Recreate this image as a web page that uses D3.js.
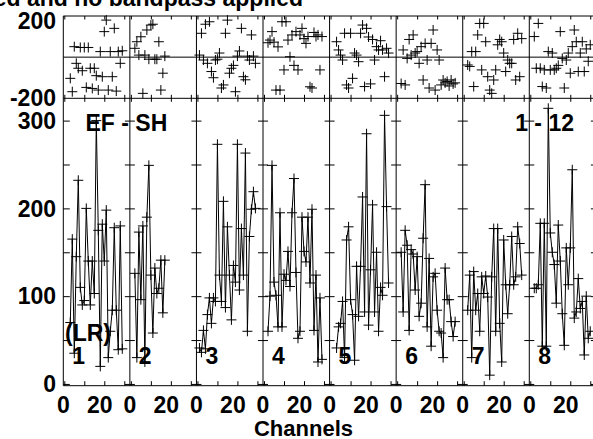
<!DOCTYPE html>
<html>
<head>
<meta charset="utf-8">
<script src="https://cdn.jsdelivr.net/npm/d3@7"></script>
<style>
  body { margin: 0; background: #fff; }
  svg { display: block; }
</style>
</head>
<body>
<script>
// panel names and first channel shown in each panel
const panelNames = ["1", "2", "3", "4", "5", "6", "7", "8"];
const firstChannel = [3, 2, 1, 2, 3, 2, 2, 2];

// amplitude per channel, one array per panel
const amp1 = [70, 165, 35, 145, 232, 110, 90, 95, 200, 140, 90, 140, 103, 300, 175, 20, 182, 140, 198, 30, 60, 84, 178, 84, 39, 180, 40];
const amp2 = [126, 30, 173, 96, 180, 25, 190, 249, 124, 58, 132, 103, 109, 141, 81, 141];
const amp3 = [41, 36, 61, 40, 79, 98, 69, 98, 94, 273, 124, 94, 208, 87, 179, 124, 73, 135, 116, 273, 107, 177, 124, 263, 60, 168, 199, 219, 200];
const amp4 = [60, 100, 249, 116, 101, 65, 195, 65, 125, 118, 151, 111, 195, 234, 127, 52, 60, 190, 151, 139, 190, 115, 199, 61, 124, 25, 98, 28];
const amp5 = [41, 65, 69, 94, 30, 164, 179, 96, 79, 27, 134, 77, 134, 213, 82, 285, 67, 130, 204, 82, 150, 60, 110, 101, 306, 202, 115];
const amp6 = [150, 82, 175, 158, 61, 153, 148, 107, 145, 77, 92, 166, 227, 65, 143, 43, 122, 126, 84, 60, 58, 30, 132, 96, 96, 71, 54, 71];
const amp7 = [84, 124, 30, 128, 84, 103, 60, 122, 103, 123, 99, 10, 122, 177, 60, 177, 69, 25, 164, 113, 80, 113, 168, 113, 122, 179, 160, 124];
const amp8 = [109, 109, 113, 183, 43, 183, 43, 314, 172, 150, 136, 92, 181, 140, 80, 44, 155, 113, 155, 244, 75, 82, 120, 86, 94, 33, 100, 52, 60];

// phase (degrees) per channel
const phase1 = [-103, -168, 51, -30, -54, 47, -66, 47, -147, 47, -54, -152, -54, -90, -160, 27, -95, 124, 180, -160, 27, -95, 140, -165, 27, -30, 31];
const phase2 = [43, 75, 10, 99, -176, 10, 132, -10, 156, 160, -10, -10, 75, -160, -78, 5];
const phase3 = [10, 116, -14, 160, -30, 172, -70, -100, -14, -10, 20, -150, -135, 116, 180, -78, -54, -40, -168, 5, 30, 140, -95, -110, 5, -14, 108, 5, -30];
const phase4 = [70, 83, 124, 73, -160, 50, -160, 172, -62, 172, 83, 2, 108, -40, 124, -62, 108, 140, 90, 67, 100, -144, -150, 120, 100, 108, -62, 100];
const phase5 = [75, 35, 10, -14, 116, -135, -150, 116, -103, 20, 10, -22, 116, 156, -143, 140, 98, -130, 86, -14, 51, 35, 80, 35, -95, 43, 20];
const phase6 = [-128, 35, -135, -6, 86, 10, 108, 20, 27, -30, 51, -111, 67, -14, -150, 67, 132, -160, 35, -14, -135, -111, -125, -118, -140, -111, -130, -125];
const phase7 = [-38, -45, 27, -143, 27, 108, 164, -62, 164, 75, -95, -160, -176, -111, -62, 60, 86, 75, 20, -70, -14, -30, -30, 86, -111, 116, -95, 90];
const phase8 = [100, -54, 164, -54, -143, -62, -150, 27, -62, 20, -62, -54, -40, 124, -6, -150, -14, 20, -78, 51, 132, 75, -70, 20, 75, -70, 40, -20, 60];

const ampSeries = [amp1, amp2, amp3, amp4, amp5, amp6, amp7, amp8];
const phaseSeries = [phase1, phase2, phase3, phase4, phase5, phase6, phase7, phase8];

// tick values and labels
const ampTicks = [0, 50, 100, 150, 200, 250, 300];
const ampLabels = [0, 100, 200, 300];
const phaseLabels = [200, -200];
const chanTicks = [0, 10, 20, 30];
const chanLabels = [0, 20];

const titleText = "Data uncalibrated and no bandpass applied";
const baselineText = "EF - SH";
const timeText = "1 - 12";
const polText = "(LR)";
const xTitle = "Channels";

// layout
const width = 593, height = 439;
const plotLeft = 63.3, panelW = 66.57;
const phaseTop = 16, phaseBottom = 98.3, ampBottom = 385.7;
const fontSize = 23;
const cross = 5;
const font = "'Liberation Sans', Arial, Helvetica, sans-serif";

const svg = d3.select("body").append("svg")
  .attr("width", width)
  .attr("height", height)
  .attr("viewBox", [0, 0, width, height])
  .attr("font-family", font)
  .attr("font-weight", "bold")
  .attr("font-size", fontSize);

// scales
const panelScale = d3.scaleBand()
  .domain(d3.range(panelNames.length))
  .range([plotLeft, plotLeft + panelW * panelNames.length]);
const yAmp = d3.scaleLinear().domain([-2, 325.4]).range([ampBottom, phaseBottom]);
const yPhase = d3.scaleLinear().domain([-200, 200]).range([phaseBottom, phaseTop]);
const xFor = (i) => d3.scaleLinear()
  .domain([-0.5, 32.8])
  .range([panelScale(i), panelScale(i) + panelScale.bandwidth()]);

const plotRight = panelScale(panelNames.length - 1) + panelScale.bandwidth();

// frame
const frame = svg.append("g").attr("stroke", "#000").attr("stroke-width", 1);
[phaseTop, yPhase(0), phaseBottom, ampBottom].forEach((yy) => {
  frame.append("line").attr("x1", plotLeft).attr("x2", plotRight).attr("y1", yy).attr("y2", yy);
});
d3.range(panelNames.length + 1).forEach((i) => {
  const xx = plotLeft + i * panelScale.bandwidth();
  frame.append("line").attr("x1", xx).attr("x2", xx).attr("y1", phaseTop).attr("y2", ampBottom);
});

function cleanAxis(g) {
  g.select(".domain").remove();
  g.selectAll(".tick text").remove();
  g.selectAll(".tick line").attr("stroke", "#000");
}

// channel ticks per panel
panelNames.forEach((name, i) => {
  const x = xFor(i);
  svg.append("g").attr("transform", `translate(0,${ampBottom})`)
    .call(d3.axisBottom(x).tickValues(chanTicks).tickSize(-4.5)).call(cleanAxis);
  svg.append("g").attr("transform", `translate(0,${phaseBottom})`)
    .call(d3.axisBottom(x).tickValues(chanTicks).tickSize(-3.5)).call(cleanAxis);
  svg.append("g").attr("transform", `translate(0,${phaseBottom})`)
    .call(d3.axisTop(x).tickValues(chanTicks).tickSize(-3.5)).call(cleanAxis);
  svg.append("g").attr("transform", `translate(0,${phaseTop})`)
    .call(d3.axisTop(x).tickValues(chanTicks).tickSize(-3.5)).call(cleanAxis);
});

// amplitude ticks on every panel border
d3.range(panelNames.length + 1).forEach((i) => {
  const xx = plotLeft + i * panelScale.bandwidth();
  if (i > 0) {
    svg.append("g").attr("transform", `translate(${xx},0)`)
      .call(d3.axisLeft(yAmp).tickValues(ampTicks).tickSize(5)).call(cleanAxis);
  }
  if (i < panelNames.length) {
    svg.append("g").attr("transform", `translate(${xx},0)`)
      .call(d3.axisRight(yAmp).tickValues(ampTicks).tickSize(i === 0 ? 6.5 : 5)).call(cleanAxis);
  }
});

// data
panelNames.forEach((name, i) => {
  const x = xFor(i);
  const amps = ampSeries[i].map((v, k) => ({ ch: firstChannel[i] + k, v }));
  const phases = phaseSeries[i].map((v, k) => ({ ch: firstChannel[i] + k, v }));

  // phase crosses
  svg.append("g")
    .selectAll("path")
    .data(phases)
    .join("path")
    .attr("d", (d) => `M${x(d.ch) - cross},${yPhase(d.v)}h${2 * cross}M${x(d.ch)},${yPhase(d.v) - cross}v${2 * cross}`)
    .attr("stroke", "#000")
    .attr("stroke-width", 1)
    .attr("fill", "none");

  // amplitude line + crosses
  svg.append("path")
    .datum(amps)
    .attr("d", d3.line().x((d) => x(d.ch)).y((d) => yAmp(d.v)))
    .attr("stroke", "#000")
    .attr("stroke-width", 1)
    .attr("fill", "none");
  svg.append("g")
    .selectAll("path")
    .data(amps)
    .join("path")
    .attr("d", (d) => `M${x(d.ch) - cross},${yAmp(d.v)}h${2 * cross}M${x(d.ch)},${yAmp(d.v) - cross}v${2 * cross}`)
    .attr("stroke", "#000")
    .attr("stroke-width", 1)
    .attr("fill", "none");

  // channel labels
  svg.append("g")
    .selectAll("text")
    .data(chanLabels)
    .join("text")
    .attr("x", (d) => x(d) - (d === 0 ? 1 : 4.5))
    .attr("y", 413)
    .attr("text-anchor", "middle")
    .text((d) => d);

  // panel number
  svg.append("text")
    .attr("x", panelScale(i) + 9)
    .attr("y", 364)
    .text(name);
});

// y labels
svg.append("g")
  .selectAll("text")
  .data(ampLabels)
  .join("text")
  .attr("x", 56)
  .attr("y", (d) => yAmp(d))
  .attr("dy", "0.36em")
  .attr("text-anchor", "end")
  .text((d) => d);
svg.append("g")
  .selectAll("text")
  .data(phaseLabels)
  .join("text")
  .attr("x", 56)
  .attr("y", (d) => (d > 0 ? 28.5 : yPhase(d) + 7.5))
  .attr("text-anchor", "end")
  .text((d) => d);

// annotations
svg.append("text").attr("x", 303).attr("y", 6).attr("text-anchor", "end").text(titleText);
svg.append("text").attr("x", 85.5).attr("y", 130.7).text(baselineText);
svg.append("text").attr("x", 574).attr("y", 131).attr("text-anchor", "end").text(timeText);
svg.append("text").attr("x", 65).attr("y", 341).text(polText);
svg.append("text").attr("x", 303.5).attr("y", 435.5).attr("text-anchor", "middle")
  .attr("font-size", 22).text(xTitle);
</script>
</body>
</html>
